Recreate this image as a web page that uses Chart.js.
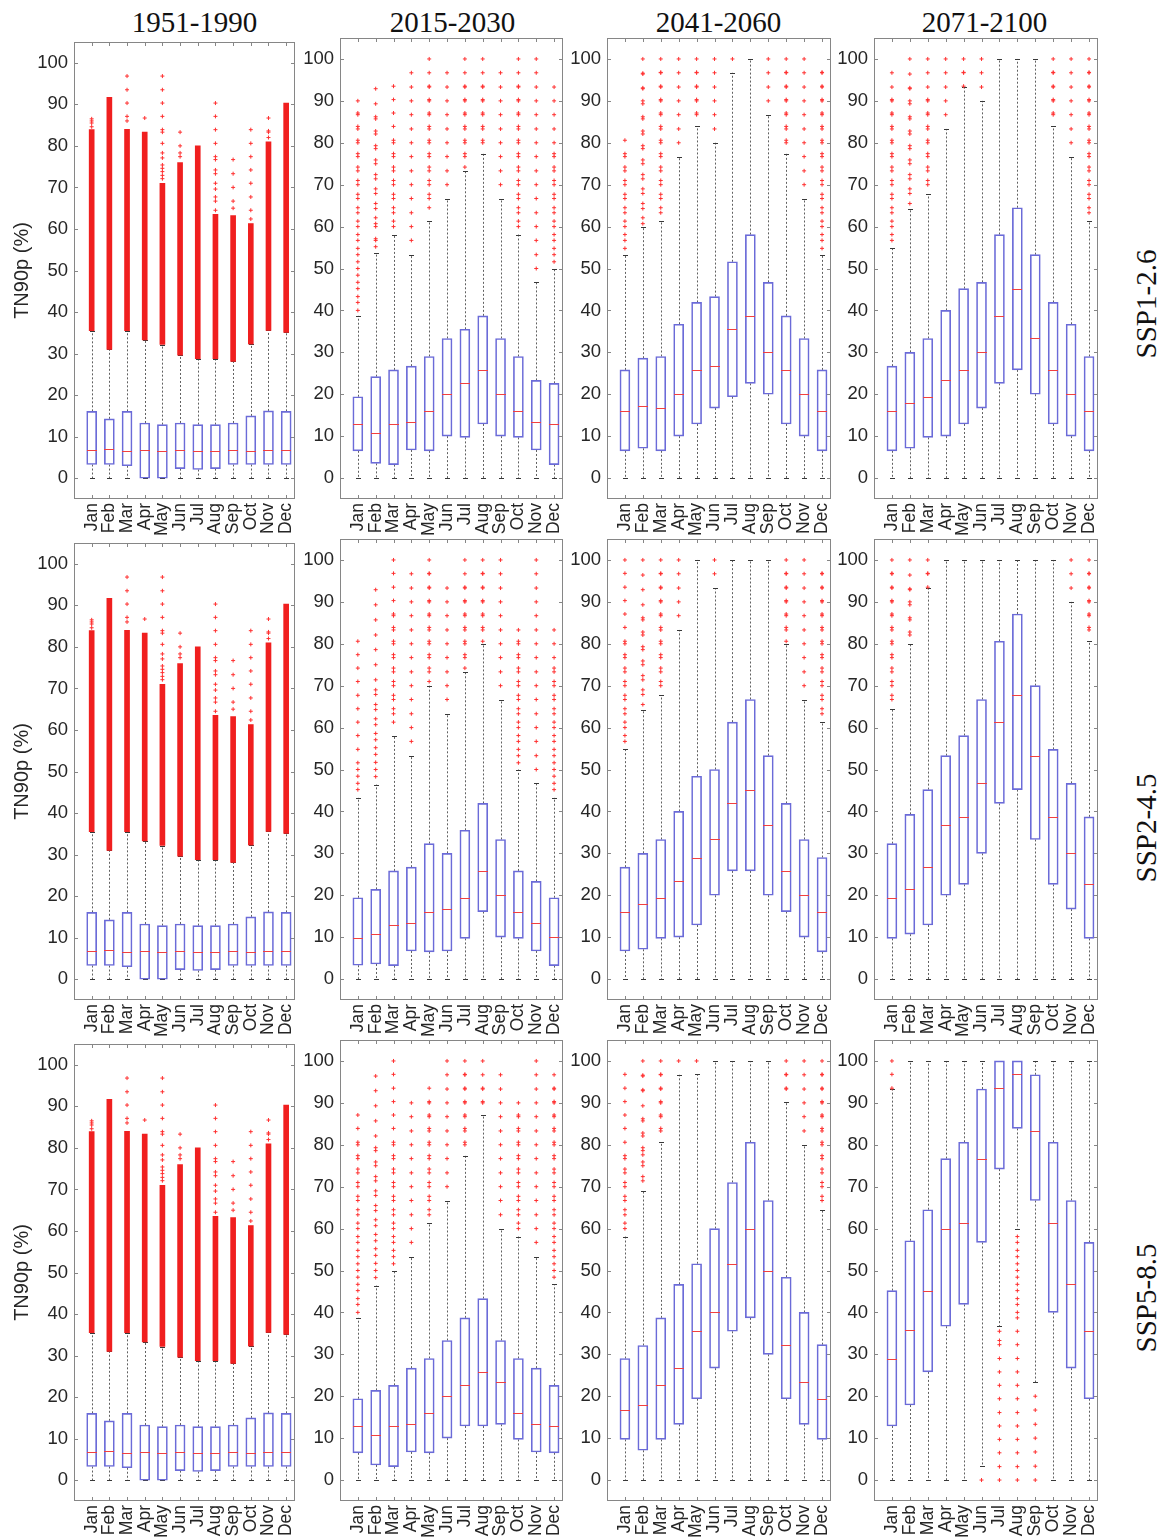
<!DOCTYPE html>
<html><head><meta charset="utf-8">
<script src="https://cdn.jsdelivr.net/npm/chart.js@4.4.1/dist/chart.umd.min.js"></script>
<style>
html,body{margin:0;padding:0;background:#fff;}
#page{position:relative;width:1168px;height:1540px;overflow:hidden;background:#fff;}
canvas{position:absolute;}
.ttl{position:absolute;width:240px;text-align:center;font-family:'Liberation Serif','Times New Roman',serif;font-size:29px;line-height:29px;color:#111;white-space:nowrap;}
.rowlbl{position:absolute;font-family:'Liberation Serif','Times New Roman',serif;font-size:29px;line-height:29px;color:#111;white-space:nowrap;transform:translate(-50%,-50%) rotate(-90deg);}
</style></head>
<body><div id="page"></div>
<script>
// ---------------- categories / labels ----------------
const months = ['Jan','Feb','Mar','Apr','May','Jun','Jul','Aug','Sep','Oct','Nov','Dec'];
const yTicks = [0,10,20,30,40,50,60,70,80,90,100];
const periods = ['1951-1990','2015-2030','2041-2060','2071-2100'];
const scenarios = ['SSP1-2.6','SSP2-4.5','SSP5-8.5'];
const yTitle = 'TN90p (%)';

// ---------------- 1951-1990 (historical, same in every row) ----------------
const hist_q1  = [3.3, 3.3, 3.0, 0, 0, 2.3, 2.1, 2.3, 3.3, 3.3, 3.3, 3.3];
const hist_med = [6.7, 7.1, 6.5, 6.7, 6.5, 6.7, 6.5, 6.5, 6.7, 6.5, 6.7, 6.7];
const hist_q3  = [16.1, 14.3, 16.1, 13.3, 12.9, 13.3, 12.9, 12.9, 13.3, 15.0, 16.2, 16.1];
const hist_wlo = [0,0,0,0,0,0,0,0,0,0,0,0];
const hist_whi = [35.4, 31.1, 35.4, 33.3, 32.1, 29.6, 28.7, 28.7, 28.2, 32.3, 35.6, 35.2];
const hist_denseLo = [35.5, 31.0, 35.5, 33.3, 32.2, 29.6, 28.8, 28.8, 28.1, 32.3, 35.6, 35.1];
const hist_denseHi = [83.9, 91.7, 84.0, 83.3, 71.0, 76.0, 80.0, 63.5, 63.2, 61.3, 81.0, 90.3];
const hist_out = [
 [84.6, 85.5, 86.0, 86.5], [],
 [86.0, 87.1, 90.3, 93.5, 96.8], [86.7],
 [72.1, 72.9, 73.8, 74.6, 75.4, 77.1, 78.3, 80.6, 83.3, 83.9, 87.1, 90.3, 93.5, 96.8],
 [77.4, 78.3, 80.0, 83.3], [],
 [64.5, 66.7, 67.7, 69.6, 71.0, 73.3, 74.2, 76.7, 77.4, 80.6, 83.9, 87.1, 90.3],
 [65.0, 66.7, 70.0, 73.3, 76.7],
 [62.4, 64.5, 67.7, 71.0, 74.2, 77.4, 80.6, 83.9],
 [82.0, 83.3, 83.6, 86.7], []
];

// ---------------- SSP1-2.6 ----------------
const a126_q1  = [6.5, 3.5, 3.2, 6.7, 6.5, 10.0, 9.7, 12.9, 10.0, 9.7, 6.7, 3.2];
const a126_med = [13.0, 10.7, 12.9, 13.3, 16.1, 20.0, 22.6, 25.8, 20.0, 16.1, 13.3, 12.9];
const a126_q3  = [19.4, 24.2, 25.8, 26.7, 29.0, 33.3, 35.5, 38.7, 33.3, 29.0, 23.3, 22.6];
const a126_wlo = [0,0,0,0,0,0,0,0,0,0,0,0];
const a126_whi = [38.7, 53.6, 58.1, 53.3, 61.3, 66.7, 73.3, 77.4, 66.7, 58.1, 46.7, 50.0];
const a126_out = [
 [40.0,41.9,43.3,45.2,46.7,48.4,50.0,51.6,53.3,54.8,56.7,58.1,60.0,61.3,63.3,64.5,66.7,67.7,70.0,71.0,73.3,74.2,76.7,77.4,80.0,80.6,83.3,83.9,86.7,87.1,90.0],
 [55.2,56.7,57.1,60.0,60.7,62.1,64.3,65.5,67.9,69.0,71.4,72.4,75.0,75.9,78.6,79.3,82.1,82.8,85.7,86.2,89.3,92.9],
 [60.0,61.3,63.3,64.5,66.7,67.7,70.0,71.0,73.3,74.2,76.7,77.4,80.0,80.6,83.9,87.1,90.3,93.5],
 [56.7,60.0,63.3,66.7,70.0,73.3,76.7,80.0,83.3,86.7,90.0,93.3,96.7],
 [64.5,66.7,67.7,70.0,71.0,73.3,74.2,76.7,77.4,80.0,80.6,83.3,83.9,86.7,87.1,90.0,90.3,93.3,93.5,96.7,100],
 [70.0,73.3,76.7,80.0,83.3,86.7,90.0,93.3,96.7],
 [74.2,76.7,77.4,80.0,80.6,83.3,83.9,86.7,87.1,90.0,90.3,93.3,93.5,96.7,100],
 [80.0,80.6,83.3,83.9,86.7,87.1,90.0,90.3,93.3,93.5,96.7,100],
 [70.0,73.3,76.7,80.0,83.3,86.7,90.0,93.3,96.7],
 [60.0,61.3,63.3,64.5,66.7,67.7,70.0,71.0,73.3,74.2,76.7,77.4,80.0,80.6,83.3,83.9,86.7,87.1,90.0,90.3,93.3,93.5,96.7,100],
 [50.0,53.3,56.7,60.0,63.3,66.7,70.0,73.3,76.7,80.0,83.3,86.7,90.0,93.3,96.7,100],
 [51.6,53.3,54.8,56.7,58.1,60.0,61.3,63.3,64.5,66.7,67.7,70.0,71.0,73.3,74.2,76.7,77.4,80.0,83.3,86.7,90.0,93.3]
];

const b126_q1  = [6.5, 7.1, 6.5, 10.0, 12.9, 16.7, 19.4, 22.6, 20.0, 12.9, 10.0, 6.5];
const b126_med = [16.1, 17.1, 16.7, 20.0, 25.8, 26.7, 35.5, 38.7, 30.0, 25.8, 20.0, 16.1];
const b126_q3  = [25.8, 28.6, 29.0, 36.7, 41.9, 43.3, 51.6, 58.1, 46.7, 38.7, 33.3, 25.8];
const b126_wlo = [0,0,0,0,0,0,0,0,0,0,0,0];
const b126_whi = [53.3, 60.0, 61.3, 76.7, 83.9, 80.0, 96.7, 100, 86.7, 77.4, 66.7, 53.3];
const b126_out = [
 [54.8,56.7,58.1,60.0,61.3,63.3,64.5,66.7,67.7,70.0,71.0,73.3,74.2,76.7,77.4,80.6],
 [60.7,62.1,64.3,65.5,67.9,69.0,71.4,72.4,75.0,75.9,78.6,79.3,82.1,82.8,85.7,86.2,89.3,90.0,92.9,93.1,96.4,96.6,100],
 [63.3,64.5,66.7,67.7,70.0,71.0,73.3,74.2,76.7,77.4,80.0,80.6,83.3,83.9,86.7,87.1,90.0,90.3,93.3,93.5,96.7,96.8,100],
 [80.0,83.3,86.7,90.0,93.3,96.7,100],
 [86.7,87.1,90.0,90.3,93.3,93.5,96.7,96.8,100],
 [83.3,86.7,90.0,93.3,96.7,100],
 [100], [],
 [90.0,93.3,96.7,100],
 [80.0,80.6,83.3,83.9,86.7,87.1,90.0,90.3,93.3,93.5,96.7,96.8,100],
 [70.0,73.3,76.7,80.0,83.3,86.7,90.0,93.3,96.7,100],
 [54.8,56.7,58.1,60.0,61.3,63.3,64.5,66.7,67.7,70.0,71.0,73.3,74.2,76.7,77.4,80.0,80.6,83.3,83.9,86.7,87.1,90.0,90.3,93.3,93.5,96.7,96.8]
];

const c126_q1  = [6.5, 7.1, 9.7, 10.0, 12.9, 16.7, 22.6, 25.8, 20.0, 12.9, 10.0, 6.5];
const c126_med = [16.1, 17.9, 19.4, 23.3, 25.8, 30.0, 38.7, 45.2, 33.3, 25.8, 20.0, 16.1];
const c126_q3  = [26.7, 30.0, 33.3, 40.0, 45.2, 46.7, 58.1, 64.5, 53.3, 41.9, 36.7, 29.0];
const c126_wlo = [0,0,0,0,0,0,0,0,0,0,0,0];
const c126_whi = [54.8, 64.3, 67.7, 83.3, 93.3, 90.0, 100, 100, 100, 83.9, 76.7, 61.3];
const c126_out = [
 [56.7,58.1,60.0,61.3,63.3,64.5,66.7,67.7,70.0,71.0,73.3,74.2,76.7,77.4,80.0,80.6,83.3,83.9,86.7,87.1,90.0,90.3,93.3,96.7],
 [65.5,67.9,69.0,71.4,72.4,75.0,75.9,78.6,79.3,82.1,82.8,85.7,86.2,89.3,90.0,92.9,93.1,96.4,100],
 [70.0,71.0,73.3,74.2,76.7,77.4,80.0,80.6,83.3,83.9,86.7,87.1,90.0,90.3,93.3,96.7,100],
 [86.7,90.0,93.3,96.7,100],
 [93.5,96.7,96.8,100],
 [93.3,96.7,100],
 [], [], [],
 [86.7,87.1,90.0,90.3,93.3,93.5,96.7,96.8,100],
 [80.0,83.3,86.7,90.0,93.3,96.7,100],
 [63.3,64.5,66.7,67.7,70.0,71.0,73.3,74.2,76.7,77.4,80.0,80.6,83.3,83.9,86.7,87.1,90.0,90.3,93.3,93.5,96.7,96.8,100]
];

// ---------------- SSP2-4.5 ----------------
const a245_q1  = [3.3, 3.6, 3.2, 6.7, 6.5, 6.7, 9.7, 16.1, 10.0, 9.7, 6.7, 3.2];
const a245_med = [9.7, 10.7, 12.9, 13.3, 16.1, 16.7, 19.4, 25.8, 20.0, 16.1, 13.3, 10.0];
const a245_q3  = [19.4, 21.4, 25.8, 26.7, 32.3, 30.0, 35.5, 41.9, 33.3, 25.8, 23.3, 19.4];
const a245_wlo = [0,0,0,0,0,0,0,0,0,0,0,0];
const a245_whi = [43.3, 46.4, 58.1, 53.3, 70.0, 63.3, 73.3, 80.0, 66.7, 50.0, 46.7, 43.3];
const a245_out = [
 [45.2,46.7,48.4,50.0,51.6,54.8,58.1,61.3,64.5,67.7,71.0,74.2,77.4,80.6],
 [48.3,50.0,51.7,53.6,55.2,57.1,58.6,60.7,62.1,64.3,65.5,67.9,69.0,71.4,75.0,78.6,82.1,85.7,89.3,92.9],
 [61.3,63.3,64.5,66.7,67.7,70.0,71.0,73.3,74.2,76.7,77.4,80.0,80.6,83.3,83.9,86.7,87.1,90.3,93.5,96.8,100],
 [56.7,60.0,63.3,66.7,70.0,73.3,76.7,80.0,83.3,86.7,90.0,93.3,96.7],
 [71.0,73.3,74.2,76.7,77.4,80.0,80.6,83.3,83.9,86.7,87.1,90.0,90.3,93.3,93.5,96.7,96.8,100],
 [66.7,70.0,73.3,76.7,80.0,83.3,86.7,90.0,93.3],
 [74.2,76.7,77.4,80.0,80.6,83.3,83.9,86.7,87.1,90.0,90.3,93.3,93.5,96.7,100],
 [80.6,83.3,83.9,86.7,87.1,90.0,90.3,93.3,93.5,96.7,96.8,100],
 [70.0,73.3,76.7,80.0,83.3,86.7,90.0,93.3,96.7,100],
 [51.6,53.3,54.8,56.7,58.1,60.0,61.3,63.3,64.5,66.7,67.7,70.0,71.0,73.3,74.2,76.7,77.4,80.0,80.6,83.3],
 [50.0,53.3,56.7,60.0,63.3,66.7,70.0,73.3,76.7,80.0,83.3,86.7,90.0,93.3,96.7,100],
 [45.2,46.7,48.4,50.0,51.6,53.3,54.8,56.7,58.1,60.0,61.3,63.3,64.5,66.7,67.7,70.0,71.0,73.3,74.2,76.7,80.0,83.3]
];

const b245_q1  = [6.7, 7.1, 9.7, 10.0, 12.9, 20.0, 25.8, 25.8, 20.0, 16.1, 10.0, 6.5];
const b245_med = [16.1, 17.9, 19.4, 23.3, 29.0, 33.3, 41.9, 45.2, 36.7, 25.8, 20.0, 16.1];
const b245_q3  = [26.7, 30.0, 33.3, 40.0, 48.4, 50.0, 61.3, 66.7, 53.3, 41.9, 33.3, 29.0];
const b245_wlo = [0,0,0,0,0,0,0,0,0,0,0,0];
const b245_whi = [54.8, 64.3, 67.7, 83.3, 100, 93.3, 100, 100, 100, 80.0, 66.7, 61.3];
const b245_out = [
 [56.7,58.1,60.0,61.3,63.3,64.5,66.7,67.7,70.0,71.0,73.3,74.2,76.7,77.4,80.0,80.6,83.9,87.1,90.3,93.5,96.8,100],
 [65.5,67.9,69.0,71.4,72.4,75.0,75.9,78.6,79.3,82.1,82.8,85.7,86.2,89.3,92.9,96.4,100],
 [70.0,71.0,73.3,74.2,76.7,77.4,80.0,80.6,83.3,83.9,86.7,87.1,90.0,90.3,93.3,93.5,96.7,96.8,100],
 [86.7,90.0,93.3,96.7,100],
 [],
 [96.7,100],
 [], [], [],
 [80.6,83.3,83.9,86.7,87.1,90.0,90.3,93.3,93.5,96.7,96.8,100],
 [70.0,73.3,76.7,80.0,83.3,86.7,90.0,93.3,96.7,100],
 [63.3,64.5,66.7,67.7,70.0,71.0,73.3,74.2,76.7,77.4,80.0,80.6,83.3,83.9,86.7,87.1,90.0,90.3,93.3,93.5,96.7,96.8]
];

const c245_q1  = [9.7, 10.7, 12.9, 20.0, 22.6, 30.0, 41.9, 45.2, 33.3, 22.6, 16.7, 9.7];
const c245_med = [19.4, 21.4, 26.7, 36.7, 38.7, 46.7, 61.3, 67.7, 53.3, 38.7, 30.0, 22.6];
const c245_q3  = [32.3, 39.3, 45.2, 53.3, 58.1, 66.7, 80.6, 87.1, 70.0, 54.8, 46.7, 38.7];
const c245_wlo = [0,0,0,0,0,0,0,0,0,0,0,0];
const c245_whi = [64.5, 80.0, 93.3, 100, 100, 100, 100, 100, 100, 100, 90.0, 80.6];
const c245_out = [
 [66.7,67.7,70.0,71.0,73.3,74.2,76.7,77.4,80.0,80.6,83.3,83.9,86.7,87.1,90.0,90.3,93.3,93.5,96.7,96.8,100],
 [82.1,82.8,85.7,86.2,89.3,90.0,92.9,93.1,96.4,100],
 [93.5,96.7,96.8,100],
 [], [], [], [], [], [], [],
 [93.3,96.7,100],
 [83.3,83.9,86.7,87.1,90.0,90.3,93.3,93.5,96.7,96.8,100]
];

// ---------------- SSP5-8.5 ----------------
const a585_q1  = [6.5, 3.6, 3.2, 6.7, 6.5, 10.0, 12.9, 12.9, 13.3, 9.7, 6.7, 6.5];
const a585_med = [12.9, 10.7, 12.9, 13.3, 16.1, 20.0, 22.6, 25.8, 23.3, 16.1, 13.3, 12.9];
const a585_q3  = [19.4, 21.4, 22.6, 26.7, 29.0, 33.3, 38.7, 43.3, 33.3, 29.0, 26.7, 22.6];
const a585_wlo = [0,0,0,0,0,0,0,0,0,0,0,0];
const a585_whi = [38.7, 46.4, 50.0, 53.3, 61.3, 66.7, 77.4, 87.1, 60.0, 58.1, 53.3, 46.7];
const a585_out = [
 [40.0,41.9,43.3,45.2,46.7,48.4,50.0,51.6,53.3,54.8,56.7,58.1,60.0,61.3,63.3,64.5,66.7,67.7,70.0,71.0,73.3,74.2,76.7,77.4,80.0,80.6,83.9,87.1],
 [48.3,50.0,51.7,53.6,55.2,57.1,58.6,60.7,62.1,64.3,65.5,67.9,69.0,71.4,72.4,75.0,75.9,78.6,79.3,82.1,85.7,89.3,92.9,96.4],
 [51.6,53.3,54.8,56.7,58.1,60.0,61.3,63.3,64.5,66.7,67.7,70.0,71.0,73.3,74.2,76.7,77.4,80.0,80.6,83.9,87.1,90.3,93.5,96.8,100],
 [56.7,60.0,63.3,66.7,70.0,73.3,76.7,80.0,83.3,86.7,90.0],
 [63.3,64.5,66.7,67.7,70.0,71.0,73.3,74.2,76.7,77.4,80.0,80.6,83.3,83.9,86.7,87.1,90.0,90.3,93.5],
 [70.0,73.3,76.7,80.0,83.3,86.7,90.0,93.3,96.7,100],
 [80.0,80.6,83.3,83.9,86.7,87.1,90.0,90.3,93.3,93.5,96.7,96.8,100],
 [90.0,90.3,93.3,93.5,96.7,100],
 [63.3,66.7,70.0,73.3,76.7,80.0,83.3,86.7,90.0,93.3,96.7],
 [60.0,61.3,63.3,64.5,66.7,67.7,70.0,71.0,73.3,74.2,76.7,77.4,80.0,80.6,83.3,83.9,86.7,87.1,90.0],
 [56.7,60.0,63.3,66.7,70.0,73.3,76.7,80.0,83.3,86.7,90.0,93.3,96.7,100],
 [48.4,50.0,51.6,53.3,54.8,56.7,58.1,60.0,61.3,63.3,64.5,66.7,67.7,70.0,71.0,73.3,74.2,76.7,77.4,80.0,80.6,83.3,83.9,86.7,87.1,90.0,90.3,93.3,93.5,96.7]
];

const b585_q1  = [9.7, 7.1, 9.7, 13.3, 19.4, 26.7, 35.5, 38.7, 30.0, 19.4, 13.3, 9.7];
const b585_med = [16.7, 17.9, 22.6, 26.7, 35.5, 40.0, 51.6, 60.0, 50.0, 32.3, 23.3, 19.4];
const b585_q3  = [29.0, 32.1, 38.7, 46.7, 51.6, 60.0, 71.0, 80.6, 66.7, 48.4, 40.0, 32.3];
const b585_wlo = [0,0,0,0,0,0,0,0,0,0,0,0];
const b585_whi = [58.1, 69.0, 80.6, 96.7, 96.8, 100, 100, 100, 100, 90.3, 80.0, 64.5];
const b585_out = [
 [60.0,61.3,63.3,64.5,66.7,67.7,70.0,71.0,73.3,74.2,76.7,77.4,80.6,83.9,87.1,90.3,93.5,96.8],
 [71.4,72.4,75.0,75.9,77.6,78.6,79.3,82.1,82.8,85.7,86.2,89.3,92.9,93.1,96.4,96.6,100],
 [83.3,83.9,86.7,87.1,90.0,90.3,93.3,93.5,96.7,96.8,100],
 [100], [100],
 [], [], [], [],
 [93.3,93.5,96.7,96.8,100],
 [83.3,86.7,90.0,93.3,96.7,100],
 [66.7,67.7,70.0,71.0,73.3,74.2,76.7,77.4,80.0,80.6,83.3,83.9,86.7,87.1,90.0,90.3,93.3,93.5,96.7,96.8,100]
];

const c585_q1  = [12.9, 17.9, 25.8, 36.7, 41.9, 56.7, 74.2, 83.9, 66.7, 40.0, 26.7, 19.4];
const c585_med = [29.0, 35.7, 45.2, 60.0, 61.3, 76.7, 93.5, 96.8, 83.3, 61.3, 46.7, 35.5];
const c585_q3  = [45.2, 57.1, 64.5, 76.7, 80.6, 93.3, 100, 100, 96.7, 80.6, 66.7, 56.7];
const c585_wlo = [0, 0, 0, 0, 0, 3.3, 36.7, 60.0, 23.3, 0, 0, 0];
const c585_whi = [93.3, 100, 100, 100, 100, 100, 100, 100, 100, 100, 100, 100];
const c585_out = [
 [93.5,96.8,100],
 [], [], [], [],
 [0],
 [0,3.2,6.5,9.7,12.9,16.1,19.4,22.6,25.8,29.0,32.3,33.3,35.5],
 [0,3.2,6.5,9.7,12.9,16.1,19.4,22.6,25.8,29.0,32.3,35.5,38.7,40.0,41.9,43.3,45.2,46.7,48.4,50.0,51.6,53.3,54.8,56.7,58.1],
 [0,3.3,6.7,10.0,13.3,16.7,20.0],
 [], [], []
];

// ---------------- panel table built from the arrays ----------------
const hist = {q1:hist_q1, med:hist_med, q3:hist_q3, wlo:hist_wlo, whi:hist_whi, out:hist_out, denseLo:hist_denseLo, denseHi:hist_denseHi};
const panelGrid = [
 [hist, {q1:a126_q1,med:a126_med,q3:a126_q3,wlo:a126_wlo,whi:a126_whi,out:a126_out},
        {q1:b126_q1,med:b126_med,q3:b126_q3,wlo:b126_wlo,whi:b126_whi,out:b126_out},
        {q1:c126_q1,med:c126_med,q3:c126_q3,wlo:c126_wlo,whi:c126_whi,out:c126_out}],
 [hist, {q1:a245_q1,med:a245_med,q3:a245_q3,wlo:a245_wlo,whi:a245_whi,out:a245_out},
        {q1:b245_q1,med:b245_med,q3:b245_q3,wlo:b245_wlo,whi:b245_whi,out:b245_out},
        {q1:c245_q1,med:c245_med,q3:c245_q3,wlo:c245_wlo,whi:c245_whi,out:c245_out}],
 [hist, {q1:a585_q1,med:a585_med,q3:a585_q3,wlo:a585_wlo,whi:a585_whi,out:a585_out},
        {q1:b585_q1,med:b585_med,q3:b585_q3,wlo:b585_wlo,whi:b585_whi,out:b585_out},
        {q1:c585_q1,med:c585_med,q3:c585_q3,wlo:c585_wlo,whi:c585_whi,out:c585_out}]
];

// ---------------- layout & style ----------------
const COL_L = [74, 340, 607, 874], COL_R = [295, 563, 831, 1098];
const ROW_T = [[42,38,38,38],[543,539,539,539],[1044,1040,1040,1040]];
const ROW_B = [499, 1000, 1501];
const TITLE_X = [194.5, 452.5, 718.5, 984.5];
const ROW_LBL_X = 1146, ROW_LBL_Y = [304, 828, 1298];

const SANS = "'Liberation Sans', Arial, Helvetica, sans-serif";
const TXT = '#262626', FRAME = '#868686';
const BLUE = '#6b6bd8', MEDC = '#f24040', OUTC = '#ff3030', DENSEC = '#f01f1f';
const WHISK = '#606060', CAPC = '#383838';

const page = document.getElementById('page');

function boxParts(P) {
  return {
    id: 'boxparts',
    beforeDatasetsDraw(chart) {
      const {ctx, scales: {x, y}} = chart;
      ctx.save();
      ctx.lineWidth = 1;
      ctx.strokeStyle = WHISK;
      ctx.setLineDash([2, 2]);
      months.forEach((m, i) => {
        const cx = Math.round(x.getPixelForValue(i + 1)) + 0.5;
        ctx.beginPath();
        if (P.whi[i] > P.q3[i]) { ctx.moveTo(cx, y.getPixelForValue(P.q3[i])); ctx.lineTo(cx, y.getPixelForValue(P.whi[i])); }
        if (P.wlo[i] < P.q1[i]) { ctx.moveTo(cx, y.getPixelForValue(P.q1[i])); ctx.lineTo(cx, y.getPixelForValue(P.wlo[i])); }
        ctx.stroke();
      });
      ctx.setLineDash([]);
      ctx.strokeStyle = CAPC;
      months.forEach((m, i) => {
        const cx = Math.round(x.getPixelForValue(i + 1)) + 0.5;
        [P.whi[i], P.wlo[i]].forEach(v => {
          const py = Math.round(y.getPixelForValue(v)) + 0.5;
          ctx.beginPath(); ctx.moveTo(cx - 2.5, py); ctx.lineTo(cx + 2.5, py); ctx.stroke();
        });
      });
      ctx.restore();
    },
    afterDatasetsDraw(chart) {
      const {ctx, chartArea: a, scales: {x, y}} = chart;
      ctx.save();
      ctx.lineWidth = 1;
      ctx.strokeStyle = MEDC;
      months.forEach((m, i) => {
        const cx = Math.round(x.getPixelForValue(i + 1));
        const py = Math.round(y.getPixelForValue(P.med[i])) + 0.5;
        ctx.beginPath(); ctx.moveTo(cx - 5, py); ctx.lineTo(cx + 5, py); ctx.stroke();
      });
      // frame
      ctx.strokeStyle = FRAME;
      ctx.strokeRect(a.left + 0.5, a.top + 0.5, a.right - a.left - 1, a.bottom - a.top - 1);
      // inner tick marks
      ctx.beginPath();
      yTicks.forEach(v => {
        const py = Math.round(y.getPixelForValue(v)) + 0.5;
        ctx.moveTo(a.left, py); ctx.lineTo(a.left + 4, py);
        ctx.moveTo(a.right - 4, py); ctx.lineTo(a.right, py);
      });
      months.forEach((m, i) => {
        const px = Math.round(x.getPixelForValue(i + 1)) + 0.5;
        ctx.moveTo(px, a.top); ctx.lineTo(px, a.top + 4);
        ctx.moveTo(px, a.bottom - 4); ctx.lineTo(px, a.bottom);
      });
      ctx.stroke();
      ctx.restore();
    }
  };
}

function makeChart(r, c, P) {
  const yW = c === 0 ? 68 : 40, xH = 44, padT = 8, padR = 6;
  const fl = COL_L[c], fr = COL_R[c], ft = ROW_T[r][c], fb = ROW_B[r];
  const W = yW + (fr - fl) + padR, H = padT + (fb - ft) + xH;
  const cv = document.createElement('canvas');
  cv.width = W; cv.height = H;
  cv.style.left = (fl - yW) + 'px'; cv.style.top = (ft - padT) + 'px';
  cv.style.width = W + 'px'; cv.style.height = H + 'px';
  page.appendChild(cv);

  const outPts = [];
  P.out.forEach((arr, i) => arr.forEach(v => outPts.push({x: i + 1, y: v})));
  const datasets = [
    {type: 'scatter', data: outPts, pointStyle: 'cross', pointRadius: 2, pointBorderWidth: 1,
     pointBorderColor: OUTC, pointBackgroundColor: OUTC}
  ];
  if (P.denseLo) {
    datasets.push({type: 'bar', data: months.map((m, i) => ({x: i + 1, y: [P.denseLo[i], P.denseHi[i]]})),
      backgroundColor: DENSEC, borderWidth: 0, barThickness: 5, grouped: false});
  }
  datasets.push({type: 'bar', data: months.map((m, i) => ({x: i + 1, y: [P.q1[i], P.q3[i]]})),
    backgroundColor: 'rgba(0,0,0,0)', borderColor: BLUE, borderWidth: 1, borderSkipped: false,
    barThickness: 10, grouped: false});

  new Chart(cv, {
    type: 'bar',
    data: {datasets},
    options: {
      responsive: false, animation: false, devicePixelRatio: 1,
      layout: {padding: {top: padT, right: padR, left: 0, bottom: 0}},
      plugins: {legend: {display: false}, tooltip: {enabled: false}},
      scales: {
        x: {type: 'linear', min: 0, max: 12.5, offset: false,
            grid: {display: false, drawTicks: false}, border: {display: false},
            afterBuildTicks: s => { s.ticks = months.map((m, i) => ({value: i + 1})); },
            afterFit: s => { s.height = xH; s.paddingLeft = 0; s.paddingRight = 0; },
            ticks: {autoSkip: false, minRotation: 90, maxRotation: 90, padding: 4, color: TXT,
                    font: {family: SANS, size: 17.5}, callback: v => months[v - 1] || ''}},
        y: {type: 'linear', min: -5, max: 105,
            grid: {display: false, drawTicks: false}, border: {display: false},
            afterBuildTicks: s => { s.ticks = yTicks.map(v => ({value: v})); },
            afterFit: s => { s.width = yW; s.paddingTop = 0; s.paddingBottom = 0; },
            ticks: {padding: 6, color: TXT, font: {family: SANS, size: 18.5}},
            title: {display: c === 0, text: yTitle, color: TXT, font: {family: SANS, size: 20},
                    padding: {top: 4, bottom: 4}}}
      }
    },
    plugins: [boxParts(P)]
  });
}

// titles
periods.forEach((t, c) => {
  const d = document.createElement('div');
  d.className = 'ttl'; d.textContent = t;
  d.style.left = (TITLE_X[c] - 120) + 'px'; d.style.top = '8px';
  page.appendChild(d);
});
scenarios.forEach((t, r) => {
  const d = document.createElement('div');
  d.className = 'rowlbl'; d.textContent = t;
  d.style.left = ROW_LBL_X + 'px'; d.style.top = ROW_LBL_Y[r] + 'px';
  page.appendChild(d);
});

panelGrid.forEach((row, r) => row.forEach((P, c) => makeChart(r, c, P)));
</script>
</body></html>
